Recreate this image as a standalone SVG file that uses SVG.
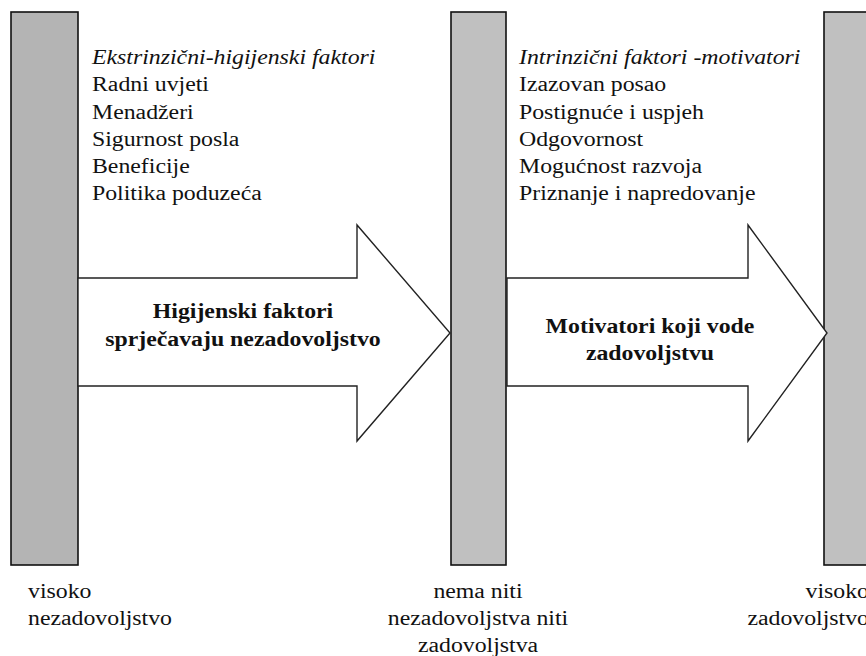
<svg xmlns="http://www.w3.org/2000/svg" width="866" height="656" viewBox="0 0 866 656">
<style>
text{font-family:"Liberation Serif","Times New Roman",serif;font-size:20px;fill:#111}
.it{font-style:italic}
.b{font-weight:bold;text-anchor:middle}
.m{text-anchor:middle}
.e{text-anchor:end}
.bar{stroke:#111;stroke-width:1.6}
.arrow{fill:#fff;stroke:#222;stroke-width:1.4;stroke-linejoin:miter}
</style>
<rect width="866" height="656" fill="#fff"/>
<g id="bar-left"><rect class="bar" x="11" y="12" width="67" height="553" fill="#b4b4b4"/></g>
<g id="bar-middle"><rect class="bar" x="451" y="12" width="55" height="553" fill="#c0c0c0"/></g>
<g id="bar-right"><rect class="bar" x="824" y="12" width="50" height="553" fill="#c0c0c0"/></g>
<g id="connectors">
<polygon class="arrow" points="78,278 357,278 357,225 450,333 357,441 357,386 78,386"/>
<polygon class="arrow" points="507,278 748,278 748,225 827,333 748,441 748,386 507,386"/>
</g>
<g id="arrow1-label">
<text class="b" transform="translate(243,318) scale(1.19,1)">Higijenski faktori</text>
<text class="b" transform="translate(243,346) scale(1.19,1)">sprječavaju nezadovoljstvo</text>
</g>
<g id="arrow2-label">
<text class="b" transform="translate(650,333) scale(1.19,1)">Motivatori koji vode</text>
<text class="b" transform="translate(650,360) scale(1.19,1)">zadovoljstvu</text>
</g>
<g id="hygiene-list">
<text class="it" transform="translate(92,64) scale(1.19,1)">Ekstrinzični-higijenski faktori</text>
<text transform="translate(92,91) scale(1.19,1)">Radni uvjeti</text>
<text transform="translate(92,119) scale(1.19,1)">Menadžeri</text>
<text transform="translate(92,146) scale(1.19,1)">Sigurnost posla</text>
<text transform="translate(92,173) scale(1.19,1)">Beneficije</text>
<text transform="translate(92,200) scale(1.19,1)">Politika poduzeća</text>
</g>
<g id="motivator-list">
<text class="it" transform="translate(519,64) scale(1.19,1)">Intrinzični faktori -motivatori</text>
<text transform="translate(519,91) scale(1.19,1)">Izazovan posao</text>
<text transform="translate(519,119) scale(1.19,1)">Postignuće i uspjeh</text>
<text transform="translate(519,146) scale(1.19,1)">Odgovornost</text>
<text transform="translate(519,173) scale(1.19,1)">Mogućnost razvoja</text>
<text transform="translate(519,200) scale(1.19,1)">Priznanje i napredovanje</text>
</g>
<g id="label-left">
<text transform="translate(28,598) scale(1.19,1)">visoko</text>
<text transform="translate(28,625) scale(1.19,1)">nezadovoljstvo</text>
</g>
<g id="label-middle">
<text class="m" transform="translate(478,598) scale(1.19,1)">nema niti</text>
<text class="m" transform="translate(478,625) scale(1.19,1)">nezadovoljstva niti</text>
<text class="m" transform="translate(478,652) scale(1.19,1)">zadovoljstva</text>
</g>
<g id="label-right">
<text class="e" transform="translate(869,598) scale(1.19,1)">visoko</text>
<text class="e" transform="translate(869,625) scale(1.19,1)">zadovoljstvo</text>
</g>
</svg>
